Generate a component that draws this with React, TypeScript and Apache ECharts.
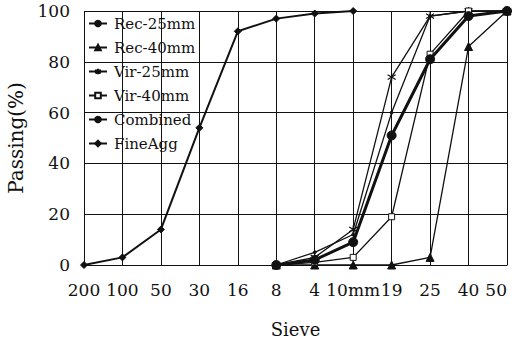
import React, { useEffect, useRef } from "react";
import * as echarts from "echarts";

const categories = ["200", "100", "50", "30", "16", "8", "4", "10mm", "19", "25", "40", "50"];
const recA = [null, null, null, null, null, 0, 5, 12, 60, 98, 100, 100];
const recB = [null, null, null, null, null, 0, 0, 0, 0, 3, 86, 100];
const virA = [null, null, null, null, null, 0, 3, 14, 74, 98, 100, 100];
const virB = [null, null, null, null, null, 0, 1, 3, 19, 83, 100, 100];
const combined = [null, null, null, null, null, 0, 2, 9, 51, 81, 98, 100];
const fineAgg = [0, 3, 14, 54, 92, 97, 99, 100, null, null, null, null];
const yTicks = [0, 20, 40, 60, 80, 100];

const INK = "#111";
const FONT = "'DejaVu Serif', 'Liberation Serif', serif";
const STAR = "path://M0,-5L0,5M-4.5,-3L4.5,3M-4.5,3L4.5,-3";

export default function App() {
  const ref = useRef<HTMLDivElement>(null);
  useEffect(() => {
    document.body.style.margin = "0";
    const chart = echarts.init(ref.current!, null, { renderer: "svg" });
    const mk = (name: string, data: any[], symbol: string, size: number, width: number, extra: any = {}) => ({
      name,
      type: "line",
      data,
      symbol,
      symbolSize: size,
      showSymbol: true,
      connectNulls: false,
      lineStyle: { color: INK, width },
      itemStyle: { color: INK, borderColor: INK, borderWidth: 1, ...(extra.itemStyle || {}) },
      z: extra.z || 2,
    });
    chart.setOption({
      animation: false,
      backgroundColor: "#fff",
      grid: { left: 84, right: 5, top: 11, bottom: 77, containLabel: false, outerBoundsMode: "none" },
      legend: {
        orient: "vertical",
        left: 88,
        top: 16,
        padding: 0,
        itemWidth: 18,
        itemHeight: 7,
        itemGap: 9,
        textStyle: { fontFamily: FONT, fontSize: 15, color: INK, padding: [0, 0, 0, 2] },
        data: ["Rec-25mm", "Rec-40mm", "Vir-25mm", "Vir-40mm", "Combined", "FineAgg"],
      },
      xAxis: {
        type: "category",
        data: categories,
        boundaryGap: false,
        name: "Sieve",
        nameLocation: "middle",
        nameGap: 55,
        nameTextStyle: { fontFamily: FONT, fontSize: 18, color: INK },
        axisLine: { show: true, lineStyle: { color: INK, width: 1 } },
        axisTick: { show: false },
        axisLabel: { fontFamily: FONT, fontSize: 17, color: INK, margin: 16, interval: 0, alignMaxLabel: "right" },
        splitLine: { show: true, lineStyle: { color: INK, width: 1 } },
      },
      yAxis: {
        type: "value",
        min: yTicks[0],
        max: yTicks[yTicks.length - 1],
        interval: 20,
        name: "Passing(%)",
        nameLocation: "middle",
        nameGap: 58,
        nameTextStyle: { fontFamily: FONT, fontSize: 20, color: INK },
        axisLine: { show: false },
        axisTick: { show: false },
        axisLabel: { fontFamily: FONT, fontSize: 17, color: INK, margin: 14 },
        splitLine: { show: true, lineStyle: { color: INK, width: 1 } },
      },
      series: [
        mk("Rec-25mm", recA, "circle", 3, 1.3),
        mk("Rec-40mm", recB, "triangle", 8, 1.3),
        mk("Vir-25mm", virA, STAR, 8, 1.3, { itemStyle: { borderWidth: 1.2 } }),
        mk("Vir-40mm", virB, "rect", 6, 1.3, { itemStyle: { color: "#fff", borderWidth: 1 } }),
        mk("Combined", combined, "circle", 9, 3, { z: 3 }),
        mk("FineAgg", fineAgg, "diamond", 7, 2),
      ],
    });
    return () => chart.dispose();
  }, []);
  return <div ref={ref} style={{ width: 512, height: 342 }} />;
}
